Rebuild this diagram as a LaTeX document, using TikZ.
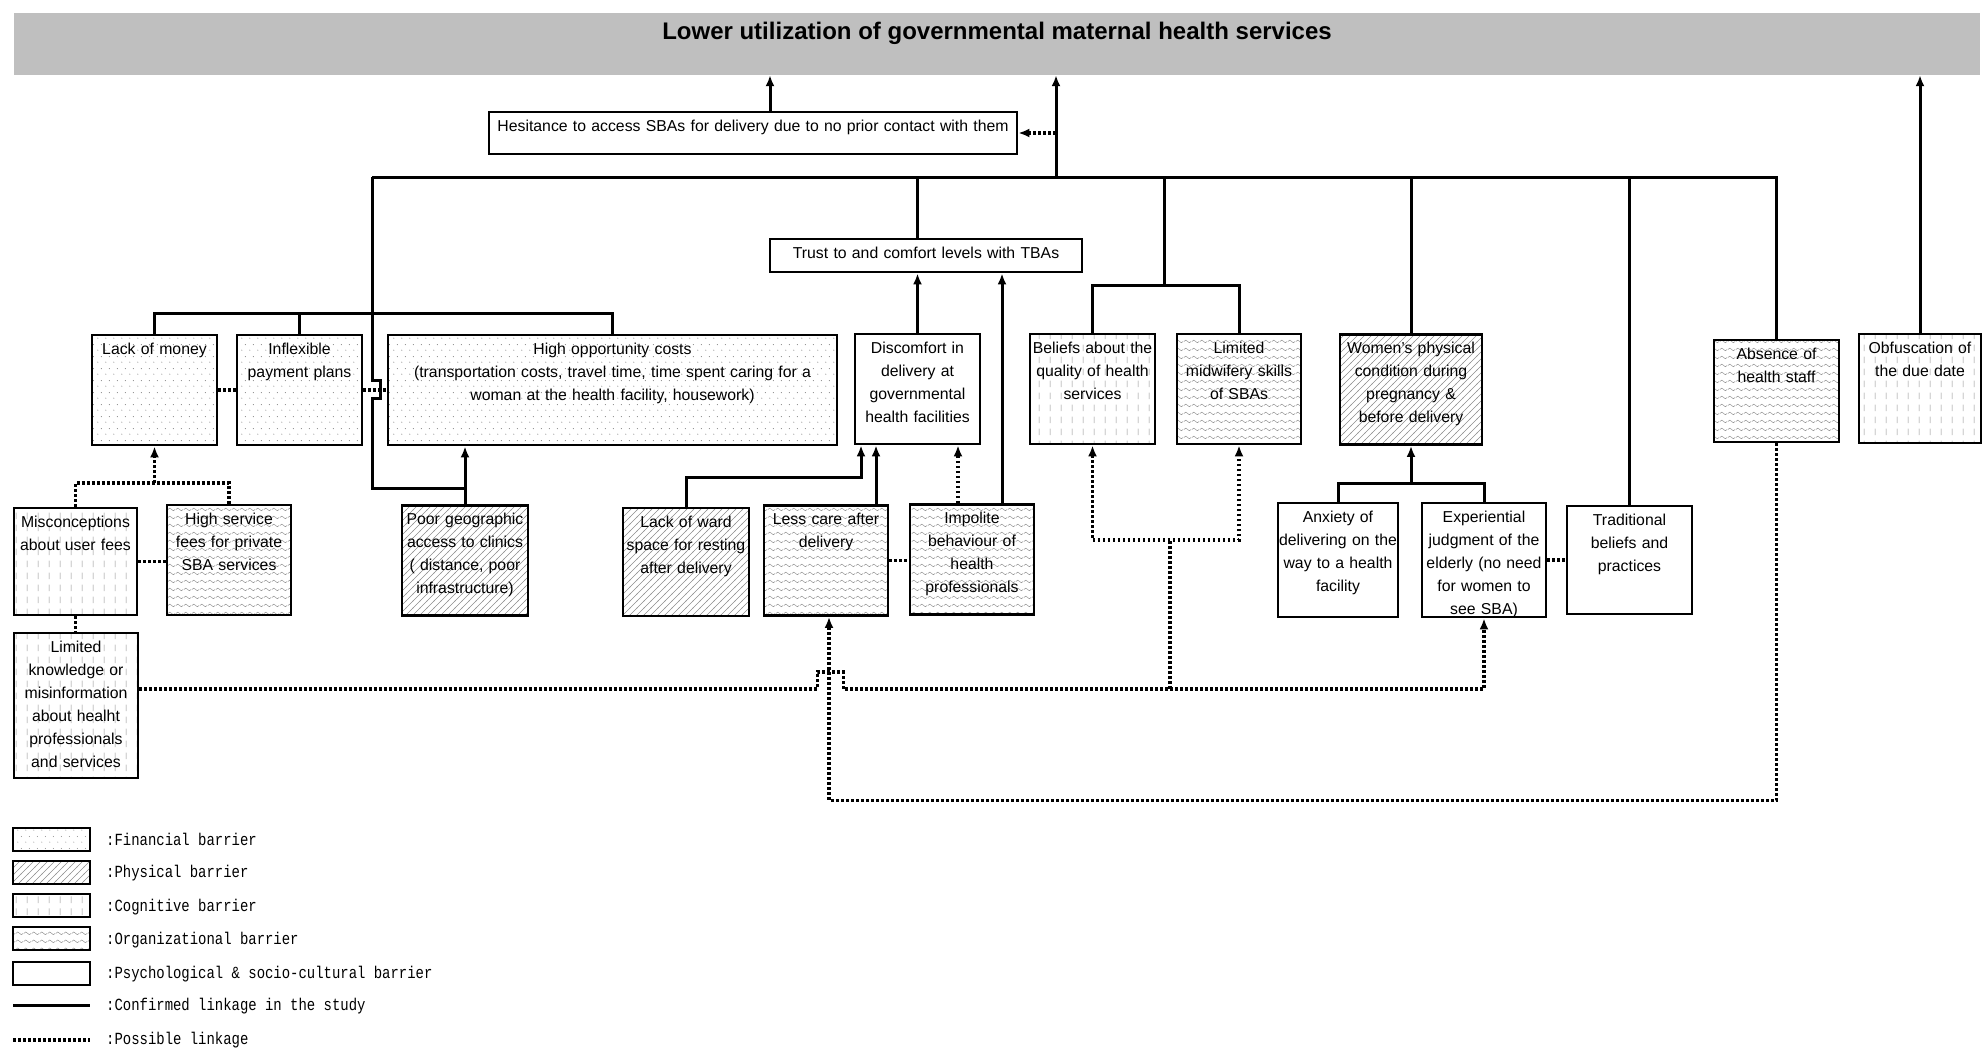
\documentclass[tikz,border=0pt]{standalone}
\usepackage{fontspec}
\setmainfont{Liberation Sans}
\newfontfamily\keyfont{Liberation Mono}[FakeStretch=0.82]
\usetikzlibrary{arrows.meta,patterns}

% fill patterns for the barrier types
\pgfdeclarepatternformonly{finpat}{\pgfpointorigin}{\pgfpoint{8pt}{12pt}}{\pgfpoint{8pt}{12pt}}{%
  \pgfpathcircle{\pgfpoint{2pt}{3pt}}{0.6pt}%
  \pgfpathcircle{\pgfpoint{6pt}{9pt}}{0.6pt}%
  \pgfusepath{fill}}
\pgfdeclarepatternformonly{physpat}{\pgfpoint{-1pt}{-1pt}}{\pgfpoint{8pt}{8pt}}{\pgfpoint{7pt}{7pt}}{%
  \pgfsetlinewidth{0.6pt}%
  \pgfpathmoveto{\pgfpoint{-0.5pt}{-0.5pt}}\pgfpathlineto{\pgfpoint{7.5pt}{7.5pt}}%
  \pgfusepath{stroke}}
\pgfdeclarepatternformonly{cogpat}{\pgfpointorigin}{\pgfpoint{11pt}{12pt}}{\pgfpoint{11pt}{12pt}}{%
  \pgfsetlinewidth{0.7pt}%
  \pgfpathmoveto{\pgfpoint{5.5pt}{2pt}}\pgfpathlineto{\pgfpoint{5.5pt}{9pt}}%
  \pgfusepath{stroke}}
\pgfdeclarepatternformonly{orgpat}{\pgfpointorigin}{\pgfpoint{8pt}{8pt}}{\pgfpoint{8pt}{8pt}}{%
  \pgfsetlinewidth{0.5pt}%
  \pgfpathmoveto{\pgfpoint{0pt}{4pt}}%
  \pgfpathcurveto{\pgfpoint{1.3pt}{6pt}}{\pgfpoint{2.7pt}{6pt}}{\pgfpoint{4pt}{4pt}}%
  \pgfpathcurveto{\pgfpoint{5.3pt}{2pt}}{\pgfpoint{6.7pt}{2pt}}{\pgfpoint{8pt}{4pt}}%
  \pgfusepath{stroke}}

\begin{document}
\begin{tikzpicture}[x=1pt, y=-1pt,
  >={Latex[length=11pt,width=9pt]},
  box/.style={draw, line width=2.8pt, align=center, inner xsep=0pt, inner ysep=4pt,
    text width=125pt, text height=15pt, text depth=87pt,
    font=\fontsize{15.8}{23}\selectfont},
  fin/.style={box, pattern=finpat, pattern color=black!45},
  phys/.style={box, pattern=physpat, pattern color=black!45},
  cog/.style={box, pattern=cogpat, pattern color=black!45},
  org/.style={box, pattern=orgpat, pattern color=black!45},
  psy/.style={box, fill=white},
  link/.style={line width=3pt},
  maybe/.style={line width=3.2pt, dash pattern=on 2.6pt off 2.4pt},
  keybox/.style={draw, line width=2pt, minimum width=77pt, minimum height=23pt, inner sep=0pt},
  keytext/.style={anchor=west, inner sep=0pt, text height=12pt, text depth=3pt,
    font=\keyfont\fontsize{17}{19}\selectfont}]
\useasboundingbox (0,0) rectangle (1984,1049);

\node[fill=black!25, minimum width=1966pt, inner sep=0pt, text height=27pt, text depth=35pt,
  font=\bfseries\fontsize{24}{28}\selectfont] (goal) at (997,44)
  {Lower utilization of governmental maternal health services};

\node[psy, text width=528pt, text depth=19pt] (hesitance) at (753,133)
  {Hesitance to access SBAs for delivery due to no prior contact with them};
\node[psy, text width=312pt, text depth=10pt] (trust) at (926,255.5)
  {Trust to and comfort levels with TBAs};

% upper row
\node[fin] (money) at (154.5,390) {Lack of money};
\node[fin] (flexi) at (299.5,390) {Inflexible\\payment plans};
\node[fin, text width=449pt] (oppcost) at (612.5,390)
  {High opportunity costs\\(transportation costs, travel time, time spent caring for a\\woman at the health facility, housework)};
\node[psy] (discomfort) at (917.5,389) {Discomfort in\\delivery at\\governmental\\health facilities};
\node[cog] (quality) at (1092.5,389) {Beliefs about the\\quality of health\\services};
\node[org, text width=124pt] (skills) at (1239,389) {Limited\\midwifery skills\\of SBAs};
\node[phys, text width=142pt] (physical) at (1411,389.5) {Women's physical\\condition during\\pregnancy \&\\before delivery};
\node[org, text depth=79pt] (absence) at (1776.5,391) {Absence of\\health staff};
\node[cog, text width=122pt, text depth=86pt] (duedate) at (1920,388.5) {Obfuscation of\\the due date};

% lower row
\node[cog, text width=123pt, text depth=84pt] (fees) at (75.5,561.5) {Misconceptions\\about user fees};
\node[org, text width=124pt] (private) at (229,560) {High service\\fees for private\\SBA services};
\node[phys, text width=126pt] (geo) at (465,560.5) {Poor geographic\\access to clinics\\( distance, poor\\infrastructure)};
\node[phys, text width=126pt, text depth=85pt] (ward) at (686,562) {Lack of ward\\space for resting\\after delivery};
\node[org, text width=124pt] (lesscare) at (826,560.5) {Less care after\\delivery};
\node[org, text width=124pt] (impolite) at (972,559.5) {Impolite\\behaviour of\\health\\professionals};
\node[psy, text width=120pt, text depth=91pt] (anxiety) at (1338,560) {Anxiety of\\delivering on the\\way to a health\\facility};
\node[psy, text width=124pt, text depth=91pt] (elderly) at (1484,560) {Experiential\\judgment of the\\elderly (no need\\for women to\\see SBA)};
\node[psy, text depth=85pt] (tradition) at (1629.5,560) {Traditional\\beliefs and\\practices};
\node[cog, text width=124pt, text depth=122pt] (knowledge) at (76,705.5)
  {Limited\\knowledge or\\misinformation\\about healht\\professionals\\and services};

\coordinate (hub) at (1056,177);
\coordinate (busL) at (372,177);
\coordinate (finbus) at (372,313);
\coordinate (geobend) at (372,488);
\coordinate (pair) at (1164,285);
\coordinate (wardbend) at (686,477);
\coordinate (womenbus) at (1411,483);
\coordinate (feebus) at (154.5,483);
\coordinate (beliefbus) at (1170,540);
\coordinate (infojoin) at (1170,689);

%%%%%%%%%%%%%%%%%%%%%%%%%%%%%%%%%%%%%%%%

\draw[link, ->] (hub) -- (hub |- goal.south);
\draw[link, ->] ([xshift=17pt]hesitance.north) -- ([xshift=17pt]hesitance.north |- goal.south);
\draw[link, ->] (duedate.north) -- (duedate.north |- goal.south);
\draw[maybe, ->] (hub |- hesitance.east) -- (hesitance.east);

\draw[link] (busL) -- (absence.north |- busL) -- (absence.north);
\draw[link] (discomfort.north |- busL) -- (discomfort.north |- trust.north);
\draw[link, ->] (discomfort.north) -- (discomfort.north |- trust.south);
\draw[link, ->] ([xshift=30pt]impolite.north) -- ([xshift=30pt]impolite.north |- trust.south);
\draw[link] (pair) -- (pair |- busL);
\draw[link] (quality.north) -- (quality.north |- pair) -- (skills.north |- pair) -- (skills.north);
\draw[link] (physical.north) -- (physical.north |- busL);
\draw[link] (tradition.north) -- (tradition.north |- busL);

\draw[link] (money.north) -- (money.north |- finbus) -- (oppcost.north |- finbus) -- (oppcost.north);
\draw[link] (flexi.north) -- (flexi.north |- finbus);
\draw[link] (busL) -- ++(0,203) -- ++(8,0) -- ++(0,18) -- ++(-8,0) -- (geobend) -| (geo.north);
\draw[link, ->] (geo.north) -- (geo.north |- oppcost.south);

\draw[link, ->] (ward.north) -- (wardbend) -| ([xshift=-56.5pt]discomfort.south);
\draw[link, ->] ([xshift=50pt]lesscare.north) -- ([xshift=50pt]lesscare.north |- discomfort.south);
\draw[maybe, ->] ([xshift=-14pt]impolite.north) -- ([xshift=-14pt]impolite.north |- discomfort.south);

\draw[link] (anxiety.north) -- (anxiety.north |- womenbus) -- (elderly.north |- womenbus) -- (elderly.north);
\draw[link, ->] (womenbus) -- (physical.south);

%%%%%%%%%%%%%%%%%%%%%%%%%%%%%%%%%%%%%%%%

\draw[maybe] (money) -- (flexi);
\draw[maybe] (flexi) -- (oppcost);
\draw[maybe] (fees.north) -- (fees.north |- feebus) -- (private.north |- feebus) -- (private.north);
\draw[maybe, ->] (feebus) -- (money.south);
\draw[maybe] (fees.east) -- (fees.east -| private.west);
\draw[maybe] (fees.south) -- (fees.south |- knowledge.north);
\draw[maybe] (lesscare.east) -- (lesscare.east -| impolite.west);
\draw[maybe] (elderly.east) -- (elderly.east -| tradition.west);
\draw[maybe, <->] (quality.south) -- (quality.south |- beliefbus) -- (skills.south |- beliefbus) -- (skills.south);
\draw[maybe] (infojoin) -- (beliefbus);
\draw[maybe, ->] ([yshift=16.5pt]knowledge.east) -- ++(678,0) -- ++(0,-17) -- ++(26,0) -- ++(0,17) -| (elderly.south);
\draw[maybe, ->] (absence.south) -- ++(0,357) -| ([xshift=3pt]lesscare.south);

%%%%%%%%%%%%%%%%%%%%%%%%%%%%%%%%%%%%%%%%

\node[keybox, pattern=finpat, pattern color=black!45] (kfin) at (51.5,839.5) {};
\node[keytext] (tfin) at (106,841) {:Financial barrier};
\node[keybox, pattern=physpat, pattern color=black!45] (kphys) at (51.5,872.5) {};
\node[keytext] (tphys) at (106,873) {:Physical barrier};
\node[keybox, pattern=cogpat, pattern color=black!45] (kcog) at (51.5,905.5) {};
\node[keytext] (tcog) at (106,907) {:Cognitive barrier};
\node[keybox, pattern=orgpat, pattern color=black!45] (korg) at (51.5,938.5) {};
\node[keytext] (torg) at (106,940) {:Organizational barrier};
\node[keybox] (kpsy) at (51.5,973) {};
\node[keytext] (tpsy) at (106,974) {:Psychological \& socio-cultural barrier};
\coordinate (ksolid) at (13,1005);
\draw[link] (ksolid) -- ++(77,0);
\node[keytext] (tsolid) at (106,1006) {:Confirmed linkage in the study};
\coordinate (kdots) at (13,1040);
\draw[maybe] (kdots) -- ++(77,0);
\node[keytext] (tdots) at (106,1040) {:Possible linkage};
\end{tikzpicture}
\end{document}
